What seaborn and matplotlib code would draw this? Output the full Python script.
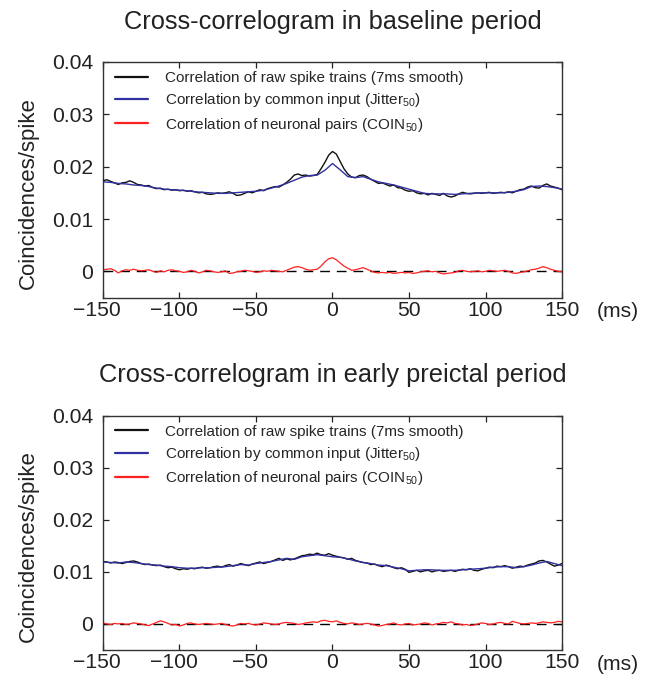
import numpy as np
import pandas as pd
import matplotlib
matplotlib.use("Agg")
import matplotlib.pyplot as plt
import matplotlib.transforms as mtransforms
import seaborn as sns

sns.set_theme(style="ticks")
plt.rcParams['font.family'] = ['Liberation Sans', 'DejaVu Sans']
plt.rcParams['mathtext.fontset'] = 'custom'
plt.rcParams['mathtext.rm'] = 'Liberation Sans'
plt.rcParams['mathtext.it'] = 'Liberation Sans'

# lags (ms)
lag_fine = np.arange(-150, 150.1, 2.5)
lag_coarse = np.arange(-150, 150.1, 5)

# baseline period (values x 1e-3 coincidences/spike)
base_raw = [17.3, 17.5, 17.2, 16.9, 16.6, 16.9, 17.0, 17.3, 17.0, 16.6,
            16.5, 16.3, 16.4, 16.0, 15.8, 15.9, 15.6, 15.7, 15.5, 15.6,
            15.4, 15.5, 15.3, 15.4, 15.2, 15.0, 15.1, 14.8, 14.7, 14.8,
            15.0, 14.9, 15.0, 15.2, 14.9, 14.5, 14.6, 14.9, 15.2, 15.0,
            15.3, 15.6, 15.4, 15.8, 16.0, 16.2, 16.1, 16.5, 17.0, 17.6,
            18.4, 18.6, 18.3, 18.4, 18.2, 18.3, 18.5, 19.6, 20.8, 22.2,
            22.9, 22.4, 21.0, 19.6, 18.6, 18.0, 17.9, 18.3, 18.4, 18.1,
            17.6, 17.2, 16.8, 16.9, 16.6, 16.3, 16.5, 16.0, 15.9, 15.5,
            15.3, 15.4, 15.0, 14.8, 14.9, 14.6, 14.9, 14.7, 14.5, 14.9,
            14.4, 14.2, 14.4, 14.8, 15.1, 14.9, 14.8, 14.9, 15.0, 14.9,
            15.0, 15.1, 14.9, 15.0, 15.1, 15.0, 15.2, 15.0, 15.3, 15.6,
            15.7, 16.1, 16.3, 16.0, 15.9, 16.4, 16.7, 16.3, 16.1, 15.9,
            15.6]
base_jitter = [17.1, 17.0, 16.8, 16.7, 16.5, 16.4, 16.2, 15.9, 15.7, 15.6,
               15.5, 15.4, 15.2, 15.1, 15.0, 14.9, 14.9, 15.0, 15.1, 15.2,
               15.3, 15.5, 15.9, 16.3, 16.8, 17.4, 18.0, 18.3, 18.4, 19.3,
               20.6, 19.4, 18.1, 17.9, 18.1, 17.6, 17.1, 16.8, 16.5, 16.1,
               15.7, 15.3, 14.9, 14.8, 14.8, 14.8, 14.7, 14.8, 14.9, 15.0,
               15.0, 15.0, 15.0, 15.1, 15.3, 15.6, 16.2, 16.3, 16.2, 16.0,
               15.7]
base_coin = [0.3, 0.4, 0.5, 0.2, -0.3, 0.1, 0.3, 0.2, 0.4, 0.2,
             0.1, 0.2, 0.3, 0.0, -0.2, 0.1, -0.1, 0.2, 0.3, 0.1,
             0.0, -0.2, -0.1, 0.2, 0.0, -0.3, -0.1, 0.2, 0.1, -0.1,
             -0.2, -0.1, 0.1, -0.4, -0.3, -0.1, 0.0, 0.2, 0.1, 0.0,
             -0.2, -0.1, 0.1, 0.0, 0.2, 0.1, 0.0, -0.1, 0.2, 0.5,
             0.8, 0.9, 0.7, 0.4, 0.2, 0.3, 0.4, 1.0, 1.8, 2.4,
             2.6, 2.2, 1.6, 1.0, 0.6, 0.2, 0.3, 0.5, 0.7, 0.4,
             0.1, -0.2, -0.3, -0.2, -0.3, -0.2, -0.4, -0.3, -0.2, -0.3,
             -0.2, -0.4, -0.3, -0.1, 0.0, 0.1, -0.1, 0.0, -0.3, -0.5,
             -0.4, -0.3, -0.2, 0.1, 0.2, 0.0, -0.1, 0.0, 0.1, -0.1,
             0.0, 0.2, 0.1, 0.0, 0.1, 0.2, 0.0, -0.3, -0.4, -0.2,
             -0.1, 0.1, 0.3, 0.4, 0.6, 0.9, 0.7, 0.4, 0.2, 0.0,
             -0.1]

# early preictal period
pre_raw = [12.0, 11.9, 11.7, 11.9, 11.8, 11.6, 11.8, 12.0, 12.1, 11.9,
           11.6, 11.4, 11.5, 11.3, 11.2, 11.3, 11.0, 10.8, 10.9, 10.6,
           10.4, 10.6, 10.5, 10.7, 10.6, 10.8, 10.9, 10.7, 10.8, 11.0,
           11.1, 10.9, 11.2, 11.4, 11.1, 11.3, 11.6, 11.4, 11.2, 11.5,
           11.7, 11.9, 11.6, 11.8, 12.0, 12.3, 12.6, 12.2, 12.5, 12.3,
           12.5, 12.8, 13.1, 13.2, 13.4, 13.3, 13.6, 13.3, 13.2, 13.5,
           13.2, 13.0, 12.8, 12.7, 12.4, 12.6, 12.2, 12.0, 11.8, 11.7,
           11.4, 11.5, 11.2, 11.0, 11.3, 11.1, 10.8, 10.6, 10.8, 10.5,
           9.9, 10.1, 10.3, 10.0, 10.2, 10.3, 10.0, 10.2, 10.3, 10.1,
           10.2, 10.3, 10.1, 10.3, 10.5, 10.4, 10.6, 10.3, 10.2, 10.5,
           10.7, 10.9, 10.8, 11.1, 11.0, 11.2, 11.0, 10.7, 10.9, 11.1,
           11.0, 11.3, 11.5, 11.7, 12.1, 12.2, 11.9, 11.5, 11.1, 11.3,
           11.6]
pre_jitter = [11.9, 11.8, 11.7, 11.9, 11.8, 11.6, 11.4, 11.3, 11.1, 11.0,
              10.8, 10.7, 10.7, 10.8, 10.8, 10.9, 11.0, 11.2, 11.4, 11.3,
              11.6, 11.8, 12.0, 12.3, 12.6, 12.4, 12.9, 13.1, 13.3, 13.1,
              12.9, 12.8, 12.5, 12.1, 11.8, 11.6, 11.3, 11.2, 10.9, 10.6,
              10.2, 10.3, 10.4, 10.4, 10.3, 10.3, 10.3, 10.4, 10.5, 10.6,
              10.7, 10.9, 11.0, 11.0, 10.8, 11.0, 11.3, 11.7, 12.0, 11.6,
              11.2]
pre_coin = [0.2, 0.0, -0.1, 0.1, 0.0, 0.1, -0.1, 0.0, 0.2, 0.1,
            0.0, -0.2, -0.3, 0.0, 0.3, 0.6, 0.4, 0.1, -0.2, -0.1,
            -0.4, -0.2, 0.1, 0.2, 0.0, -0.1, 0.0, 0.1, 0.0, -0.1,
            0.0, 0.1, -0.1, -0.3, -0.4, -0.2, 0.1, 0.0, 0.1, -0.1,
            -0.2, 0.0, 0.2, 0.1, 0.0, -0.1, 0.0, 0.2, 0.3, 0.2,
            0.1, -0.1, 0.0, 0.2, 0.3, 0.4, 0.3, 0.6, 0.7, 0.5,
            0.4, 0.6, 0.3, 0.1, 0.0, 0.2, 0.1, -0.1, 0.0, 0.1,
            0.0, -0.2, -0.4, -0.3, -0.1, 0.0, 0.2, -0.1, -0.2, 0.0,
            0.1, -0.2, -0.1, 0.0, 0.2, 0.1, -0.2, 0.0, 0.1, 0.3,
            0.2, 0.4, 0.1, 0.0, -0.2, -0.1, -0.3, -0.2, 0.0, 0.2,
            0.1, -0.1, 0.0, 0.2, 0.3, 0.1, 0.0, 0.5, 0.3, 0.1,
            0.0, 0.1, 0.2, 0.1, 0.2, 0.4, 0.3, 0.2, 0.3, 0.5,
            0.4]

titles = ['Cross-correlogram in baseline period',
          'Cross-correlogram in early preictal period']
labels = ['Correlation of raw spike trains (7ms smooth)',
          r'Correlation by common input (Jitter$_{50}$)',
          r'Correlation of neuronal pairs (COIN$_{50}$)']
colors = ['#111111', '#3030a0', '#ff2020']
xticks = [-150, -100, -50, 0, 50, 100, 150]
yticks = [0, 0.01, 0.02, 0.03, 0.04]
ytick_labels = ['0', '0.01', '0.02', '0.03', '0.04']

panels = [(base_raw, base_jitter, base_coin), (pre_raw, pre_jitter, pre_coin)]

fig = plt.figure(figsize=(6.51, 6.76), dpi=100)
ax_top = fig.add_axes([0.1582, 0.5599, 0.7051, 0.3484])
ax_bot = fig.add_axes([0.1582, 0.0385, 0.7051, 0.3466])

# negative tick labels: digits centred on the tick, minus hanging left
neg_shift = mtransforms.ScaledTranslation(-6 / 100, 0, fig.dpi_scale_trans)

for ax, title, (raw, jit, coin) in zip([ax_top, ax_bot], titles, panels):
    ax.axhline(0, color='black', lw=1.0, ls=(0, (7, 5)), zorder=1)
    sns.lineplot(x=lag_fine, y=np.array(raw) / 1000, ax=ax, color=colors[0],
                 lw=1.0, label=labels[0], zorder=3)
    sns.lineplot(x=lag_coarse, y=np.array(jit) / 1000, ax=ax, color=colors[1],
                 lw=1.0, label=labels[1], zorder=4)
    sns.lineplot(x=lag_fine, y=np.array(coin) / 1000, ax=ax, color=colors[2],
                 lw=0.9, label=labels[2], zorder=2)
    ax.set_xlim(-150, 150)
    ax.set_ylim(-0.005, 0.04)
    ax.set_xticks(xticks)
    ax.set_xticklabels(['\u2212' + str(-v) if v < 0 else str(v) for v in xticks])
    ax.set_yticks(yticks)
    ax.set_yticklabels(ytick_labels)
    ax.tick_params(direction='in', top=True, right=True, length=4, width=0.9,
                   labelsize=15.2, colors='#222222')
    ax.tick_params(axis='x', pad=2.5)
    ax.tick_params(axis='y', pad=7)
    for lab in ax.get_xticklabels():
        if lab.get_text().startswith('\u2212'):
            lab.set_transform(lab.get_transform() + neg_shift)
    for sp in ax.spines.values():
        sp.set_color('#333333')
        sp.set_linewidth(1.0)
    ax.set_xlabel('')
    ax.set_ylabel('Coincidences/spike', fontsize=16, color='#222222')
    ax.yaxis.set_label_coords(-0.14, 0.445)
    ax.set_title(title, fontsize=18.3, pad=24, color='#222222')
    ax.text(1.075, -0.06, '(ms)', transform=ax.transAxes, ha='left', va='center',
            fontsize=15.2, color='#222222')
    leg = ax.legend(loc='upper left', bbox_to_anchor=(0.026, 0.962), frameon=False,
                    fontsize=11, handlelength=2.15, handletextpad=1.1,
                    labelspacing=0.42, borderpad=0, borderaxespad=0)
    for h in leg.get_lines():
        h.set_linewidth(1.6)

fig.savefig('out.png', dpi=100)
